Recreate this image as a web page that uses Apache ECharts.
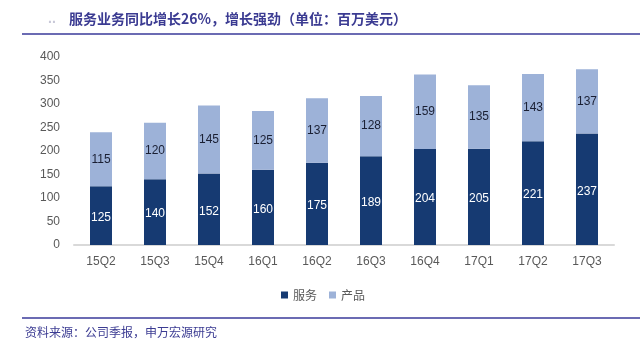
<!DOCTYPE html>
<html>
<head>
<meta charset="utf-8">
<script src="https://cdn.jsdelivr.net/npm/echarts@6/dist/echarts.min.js"></script>
<style>
  html, body { margin: 0; padding: 0; background: #fff; }
  #chart { width: 640px; height: 352px; }
</style>
</head>
<body>
<div id="chart"></div>
<script>
/* chart data */
let quarters = ["15Q2", "15Q3", "15Q4", "16Q1", "16Q2", "16Q3", "16Q4", "17Q1", "17Q2", "17Q3"];
let services = [125, 140, 152, 160, 175, 189, 204, 205, 221, 237];
let products = [115, 120, 145, 125, 137, 128, 159, 135, 143, 137];
let yTicks = [0, 50, 100, 150, 200, 250, 300, 350, 400];

let myChart = echarts.init(document.getElementById("chart"));
let font = "'Liberation Sans', Arial, 'Noto Sans CJK SC', sans-serif";
let option = {
  animation: false,
  textStyle: { fontFamily: font },
  graphic: [
    {
      type: "text",
      left: 48,
      top: 12,
      style: { text: "..", fill: "#c8c8d8", font: "bold 14px " + font },
    },
    {
      type: "text",
      left: 69,
      top: 12,
      style: {
        text: "服务业务同比增长26%，增长强劲（单位：百万美元）",
        fill: "#3b3b92",
        font: "bold 14px 'Noto Sans CJK SC', sans-serif",
      },
    },
    {
      type: "line",
      shape: { x1: 22, y1: 34, x2: 640, y2: 34 },
      style: { stroke: "#6b6bb3", lineWidth: 2 },
    },
    {
      type: "line",
      shape: { x1: 22, y1: 318, x2: 640, y2: 318 },
      style: { stroke: "#6b6bb3", lineWidth: 2 },
    },
    {
      type: "text",
      left: 25,
      top: 326,
      style: {
        text: "资料来源：公司季报，申万宏源研究",
        fill: "#3b3b92",
        font: "12px 'Noto Sans CJK SC', sans-serif",
      },
    },
  ],
  legend: {
    data: ["服务", "产品"],
    left: 276,
    top: 284,
    itemWidth: 7,
    itemHeight: 7,
    itemGap: 12,
    icon: "rect",
    textStyle: { color: "#595959", fontSize: 12, fontFamily: "'Noto Sans CJK SC', sans-serif" },
  },
  grid: { left: 74, right: 26, top: 57, bottom: 107, containLabel: false },
  xAxis: {
    type: "category",
    data: quarters,
    axisLine: { lineStyle: { color: "#d9d9d9", width: 2 } },
    axisTick: { show: false },
    axisLabel: { color: "#595959", fontSize: 12, margin: 11 },
  },
  yAxis: {
    type: "value",
    min: yTicks[0],
    max: yTicks[yTicks.length - 1],
    interval: 50,
    splitLine: { show: false },
    axisLine: { show: false },
    axisTick: { show: false },
    axisLabel: { color: "#595959", fontSize: 12, margin: 14 },
  },
  series: [
    {
      name: "服务",
      type: "bar",
      stack: "total",
      data: services,
      barWidth: 22,
      itemStyle: { color: "#163a72" },
      label: { show: true, position: "inside", color: "#ffffff", fontSize: 12, offset: [0, 2] },
    },
    {
      name: "产品",
      type: "bar",
      stack: "total",
      data: products,
      barWidth: 22,
      itemStyle: { color: "#9db2d8" },
      label: { show: true, position: "inside", color: "#1a1f33", fontSize: 12 },
    },
  ],
};
myChart.setOption(option);
</script>
</body>
</html>
